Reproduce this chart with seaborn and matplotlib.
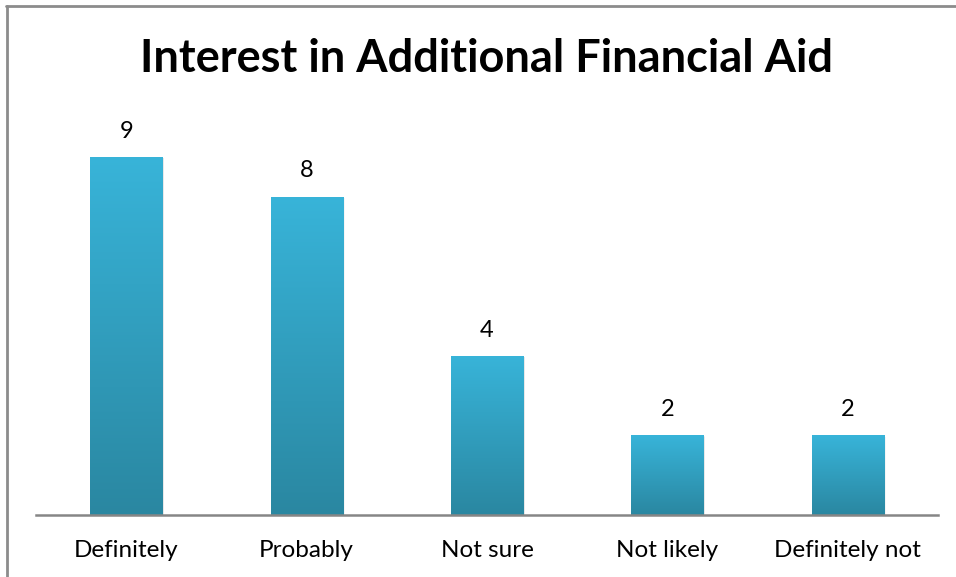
import matplotlib
matplotlib.use("Agg")
import matplotlib.pyplot as plt
import numpy as np
import pandas as pd
import seaborn as sns
from matplotlib.lines import Line2D
from matplotlib.patches import Rectangle

categories = ["Definitely", "Probably", "Not sure", "Not likely", "Definitely not"]
counts = [9, 8, 4, 2, 2]
title = "Interest in Additional Financial Aid"

df = pd.DataFrame({"answer": categories, "count": counts})

sns.set_theme(style="white")
plt.rcParams["font.family"] = ["Lato", "DejaVu Sans"]

W, H = 956, 577
fig = plt.figure(figsize=(W / 100, H / 100), dpi=100)
ax = fig.add_axes([36 / W, (H - 515) / H, (938 - 36) / W, (515 - 117) / H])

sns.barplot(data=df, x="answer", y="count", ax=ax, width=0.4,
            color="#35b1d6", saturation=1, edgecolor="none")

ax.set_xlim(-0.5, len(categories) - 0.5)
ax.set_ylim(0, 10)

# vertical gradient on each bar, plus a soft drop shadow
top_rgb = np.array([0x38, 0xb4, 0xd9]) / 255
bot_rgb = np.array([0x2a, 0x87, 0xa1]) / 255
grad = np.linspace(0, 1, 256)[:, None]
grad_img = top_rgb[None, None, :] * (1 - grad[..., None]) + bot_rgb[None, None, :] * grad[..., None]

px_x = (len(categories)) / (938 - 36)
px_y = 10 / (515 - 117)
for p in list(ax.patches):
    x0, w, h = p.get_x(), p.get_width(), p.get_height()
    for k, a in zip([4, 3, 2, 1], [0.04, 0.05, 0.06, 0.07]):
        sh = Rectangle((x0 + k * px_x * 0.5, -0.0), w, h - k * px_y * 0.3,
                       facecolor="#000000", alpha=a, edgecolor="none", zorder=1.5)
        ax.add_patch(sh)
    p.set_zorder(2)
    im = ax.imshow(grad_img, extent=[x0, x0 + w, 0, h], aspect="auto",
                   origin="upper", zorder=2.5, interpolation="bilinear")
    im.set_clip_path(p)
    ax.annotate(f"{h:g}", (x0 + w / 2, h), xytext=(0, 11), textcoords="offset points",
                ha="center", va="bottom", fontsize=17, color="#000000")

ax.set_xlim(-0.5, len(categories) - 0.5)
ax.set_ylim(0, 10)

for s in ["top", "right", "left"]:
    ax.spines[s].set_visible(False)
ax.spines["bottom"].set_color("#868686")
ax.spines["bottom"].set_linewidth(1.8)
ax.spines["bottom"].set_zorder(3)
ax.set_yticks([])
ax.set_xlabel("")
ax.set_ylabel("")
ax.tick_params(axis="x", length=0, pad=18, labelsize=17.5, labelcolor="#000000")

fig.text(487 / W, 1 - 59 / H, title, ha="center", va="center",
         fontsize=32.5, fontweight="bold", color="#000000")

# outer frame (top and left edges)
fig.add_artist(Line2D([6 / W, 1], [1 - 6 / H, 1 - 6 / H], color="#8c8c8c", lw=2))
fig.add_artist(Line2D([7 / W, 7 / W], [0, 1 - 6 / H], color="#8c8c8c", lw=2))

fig.savefig("out.png", dpi=100)
